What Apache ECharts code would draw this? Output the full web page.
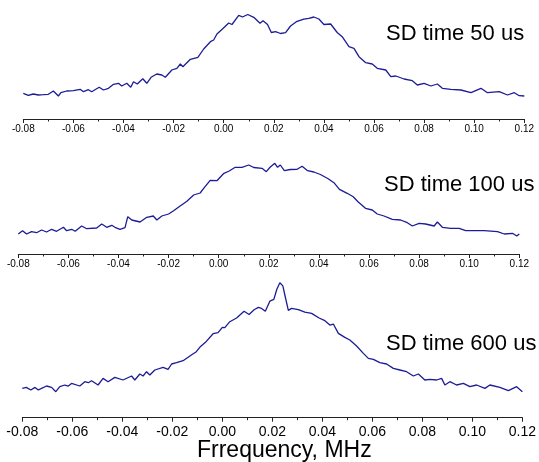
<!DOCTYPE html>
<html>
<head>
<meta charset="utf-8">
<script src="https://cdn.jsdelivr.net/npm/echarts@6/dist/echarts.min.js"></script>
<style>html,body{margin:0;padding:0;background:#fff;}#c{width:539px;height:462px;}</style>
</head>
<body>
<div id="c"></div>
<script>
// Frequency (MHz) and intensity (a.u.) for each spectral-diffusion time
const freq50 = [-0.08,-0.078,-0.076,-0.074,-0.072,-0.070,-0.068,-0.066,-0.065,-0.0627,-0.060,-0.0573,-0.056,-0.054,-0.0527,-0.0497,-0.048,-0.046,-0.044,-0.042,-0.0407,-0.0387,-0.0371,-0.036,-0.0345,-0.0323,-0.0307,-0.029,-0.0267,-0.0247,-0.0233,-0.0207,-0.0187,-0.0173,-0.0163,-0.0133,-0.0103,-0.008,-0.0053,-0.004,-0.0027,-0.0005,0.002,0.0033,0.006,0.0075,0.0096,0.012,0.0145,0.0157,0.0175,0.019,0.0207,0.0227,0.0247,0.0267,0.029,0.032,0.034,0.036,0.038,0.040,0.0427,0.0453,0.0473,0.050,0.052,0.054,0.0567,0.0593,0.0613,0.0647,0.0667,0.0687,0.072,0.0753,0.0773,0.080,0.0827,0.0853,0.0873,0.0907,0.0947,0.0987,0.1027,0.1053,0.110,0.1133,0.116,0.118,0.120];
const int50 = [25.7,23.7,25,24,24.3,24.7,28,23,26.3,28,28.3,29.7,27.3,29.3,27.3,31.7,29,30.7,34.7,35.7,33,35.7,31.7,37.3,35,40.3,35.7,41.7,45,44,41.7,49,50.7,55,52.3,59.7,61.7,70,77.3,79,85,90,96,94.5,103.7,102,104.5,101.7,95.7,98.3,94.5,86.5,87.3,85.5,86.3,93,97.3,99.8,100.7,102,100,94.5,95,86.5,82.3,72.3,70.7,62.3,56.3,55,50.7,49,42.3,43,40,38.3,34,35.7,33,35,30.7,29.7,29,26.3,30.7,26.3,27.3,24,26.3,23.3,23];

const freq100 = [-0.08,-0.0783,-0.0767,-0.0747,-0.0727,-0.0707,-0.0687,-0.0667,-0.0647,-0.062,-0.0607,-0.0587,-0.0573,-0.0547,-0.0527,-0.0487,-0.0467,-0.0447,-0.0427,-0.0414,-0.0394,-0.0374,-0.0363,-0.0347,-0.0314,-0.0287,-0.0261,-0.0247,-0.0227,-0.02,-0.018,-0.0154,-0.0127,-0.01,-0.0074,-0.006,-0.0034,-0.0007,0.0019,0.0042,0.0066,0.0093,0.012,0.014,0.0173,0.019,0.0206,0.0224,0.0235,0.0246,0.0262,0.0286,0.0313,0.0333,0.0355,0.038,0.0406,0.0437,0.046,0.0482,0.0513,0.0537,0.0556,0.0586,0.0613,0.0633,0.066,0.0693,0.0726,0.0753,0.0773,0.08,0.0826,0.086,0.0873,0.0893,0.0926,0.096,0.0986,0.102,0.106,0.1113,0.114,0.1173,0.119,0.12];
const int100 = [20,23.3,20,22.3,21.3,24,22,24.7,22.7,26.7,23.3,24.7,22.7,28,25.3,26,30,26.7,28.7,26.7,24.7,26.3,37.3,34,32,36.7,38,34,38,40,43.3,48,52.8,59,61,65.7,73.7,73.3,80.3,83,86.7,86.7,89,86.5,85.7,82.3,87,90.7,86.7,89,83.3,84.5,84.7,87.7,83.3,82,79.5,75.2,71.3,64.7,60.7,57.3,52.3,45.7,44,40,38,34.7,34,31.3,28,30.7,30,28,32,26.7,25.7,25.7,23.3,23.3,23.3,22.3,20,20.7,18,20];

const freq600 = [-0.08,-0.0784,-0.0766,-0.0749,-0.0736,-0.0723,-0.0703,-0.0683,-0.0666,-0.065,-0.063,-0.0616,-0.0603,-0.057,-0.055,-0.0536,-0.0523,-0.0497,-0.0477,-0.0457,-0.043,-0.0397,-0.0363,-0.035,-0.033,-0.0317,-0.0303,-0.029,-0.027,-0.0237,-0.0217,-0.0203,-0.0183,-0.0157,-0.0124,-0.0104,-0.0087,-0.0064,-0.0037,-0.0017,0.0,0.001,0.003,0.0057,0.0087,0.0107,0.0127,0.0144,0.0157,0.0172,0.019,0.0206,0.0218,0.023,0.0242,0.025,0.0264,0.0277,0.0304,0.033,0.0357,0.0387,0.041,0.043,0.0444,0.0464,0.049,0.051,0.0537,0.0564,0.0584,0.0604,0.063,0.0657,0.0684,0.071,0.0737,0.0764,0.0784,0.081,0.083,0.0857,0.0877,0.089,0.091,0.0937,0.0964,0.099,0.1017,0.105,0.107,0.111,0.1144,0.1177,0.12];
const int600 = [29.3,30.3,27.7,30.3,27.7,29.3,31.7,30.3,26,31,32.7,31.7,34.3,31.7,36,35,37,32.7,39.3,36,40.3,37.7,41.7,37.7,43.7,41.7,46,42.7,47.7,50.3,48.3,53.7,55,57,62.7,66,71.3,76.3,84,85,90.3,90,96,99.7,106.5,103.2,108,110.3,109.3,106.5,116.5,118.3,128.5,135,131.8,122.7,107.3,109.3,108,105.5,104.3,99.7,97,92.7,93.7,84.3,80.3,77.7,71.7,64.3,59.3,58.3,55,53.7,49.3,47.7,46,41.7,43.7,37.7,38.3,37.7,39.3,32.7,36,32.7,34.3,31,32.7,29.3,32.7,30.3,27,31,26];

const seriesLabels = ['SD time 50 us', 'SD time 100 us', 'SD time 600 us'];
const xTicks = { min: -0.08, max: 0.12, interval: 0.02 };
const xTitle = 'Frrequency, MHz';

const FONT = 'Arial, "Liberation Sans", Helvetica, sans-serif';
const LINE = '#1c1c96';

function pairs(xs, ys) { return xs.map((x, i) => [x, ys[i]]); }

const grids = [
  { left: 23.3, width: 501, top: 4, height: 115 },
  { left: 18.3, width: 501, top: 139, height: 115 },
  { left: 22.3, width: 501, top: 277.7, height: 140 }
];
const yMax = [115, 115, 140];
const labelSize = [10, 10, 14];
const labelMargin = [5, 5, 7];

function xAxis(i) {
  return {
    type: 'value', gridIndex: i, min: xTicks.min, max: xTicks.max, interval: xTicks.interval,
    axisLine: { show: true, onZero: false, lineStyle: { color: '#222', width: 1 } },
    axisTick: { show: true, inside: false, length: 4, lineStyle: { color: '#222' } },
    minorTick: { show: true, splitNumber: 2, length: 2.5, lineStyle: { color: '#222' } },
    splitLine: { show: false },
    axisLabel: { show: true, fontFamily: FONT, fontSize: labelSize[i], color: '#000', margin: labelMargin[i],
      formatter: v => v.toFixed(2), showMinLabel: true, showMaxLabel: true, hideOverlap: false }
  };
}
function yAxis(i) {
  return { type: 'value', gridIndex: i, min: 0, max: yMax[i], show: false };
}

const data = [pairs(freq50, int50), pairs(freq100, int100), pairs(freq600, int600)];

const chart = echarts.init(document.getElementById('c'), null, { renderer: 'canvas' });
chart.setOption({
  animation: false,
  backgroundColor: '#fff',
  grid: grids.map(g => Object.assign({ containLabel: false }, g)),
  xAxis: [0, 1, 2].map(xAxis),
  yAxis: [0, 1, 2].map(yAxis),
  series: data.map((d, i) => ({
    type: 'line', xAxisIndex: i, yAxisIndex: i, data: d, showSymbol: false, symbol: 'none',
    lineStyle: { color: LINE, width: 1.3 }, itemStyle: { color: LINE }
  })),
  graphic: [
    { type: 'text', left: 386, top: 23, style: { text: seriesLabels[0], font: '22px ' + FONT, fill: '#000' } },
    { type: 'text', left: 384, top: 174, style: { text: seriesLabels[1], font: '22px ' + FONT, fill: '#000' } },
    { type: 'text', left: 386, top: 333, style: { text: seriesLabels[2], font: '22px ' + FONT, fill: '#000' } },
    { type: 'text', left: 197, top: 439, style: { text: xTitle, font: '23px ' + FONT, fill: '#000' } }
  ]
});
</script>
</body>
</html>
